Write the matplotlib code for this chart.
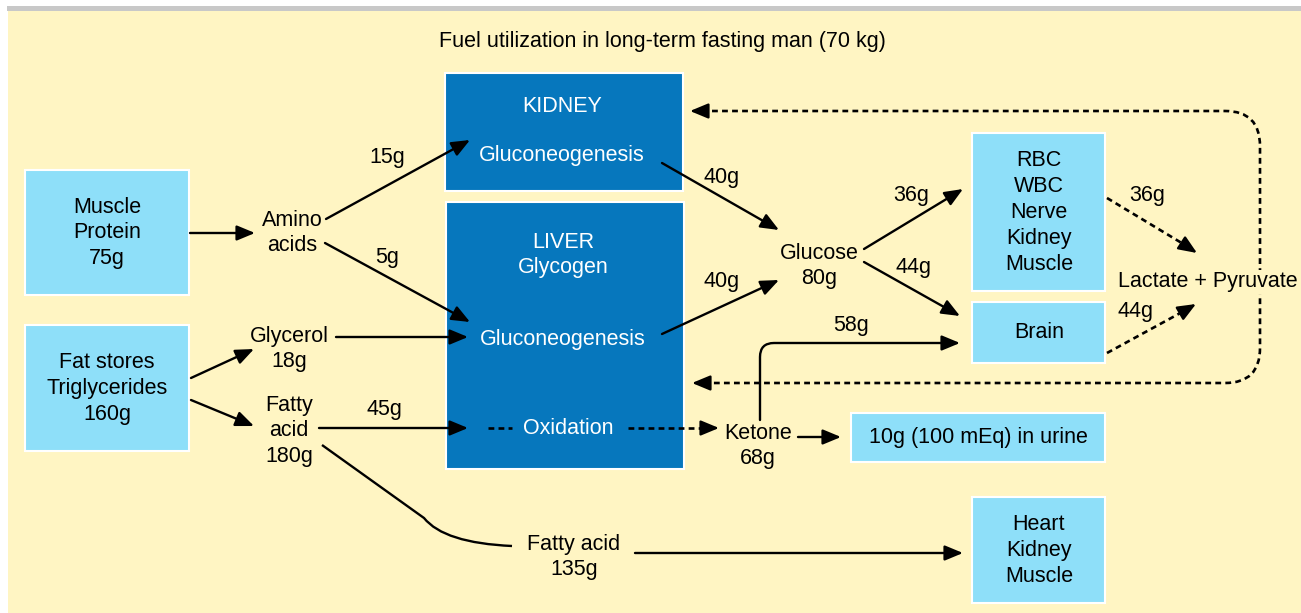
import matplotlib
matplotlib.use('Agg')
import matplotlib.pyplot as plt
from matplotlib.patches import Rectangle, FancyArrowPatch, PathPatch
from matplotlib.path import Path

# ---- content ----
title = 'Fuel utilization in long-term fasting man (70 kg)'

store_labels = ['Muscle\nProtein\n75g', 'Fat stores\nTriglycerides\n160g']
tissue_labels = ['RBC\nWBC\nNerve\nKidney\nMuscle', 'Brain',
                 '10g (100 mEq) in urine', 'Heart\nKidney\nMuscle']
organ_labels = ['KIDNEY', 'LIVER\nGlycogen']
process_labels = ['Gluconeogenesis', 'Gluconeogenesis', 'Oxidation']
middle_labels = ['Amino\nacids', 'Glycerol\n18g', 'Fatty\nacid\n180g',
                 'Glucose\n80g', 'Ketone\n68g', 'Fatty acid\n135g',
                 'Lactate + Pyruvate']
# grams carried by each labelled flow
flow_names = ['amino->kidney', 'amino->liver', 'kidney->glucose', 'liver->glucose',
              'glucose->rbc', 'glucose->brain', 'rbc->lactate', 'brain->lactate',
              'fatty->oxidation', 'ketone->brain']
flow_grams = [15, 5, 40, 40, 36, 44, 36, 44, 45, 58]

# ---- layout (pixel coords of the 1301x613 picture) ----
store_boxes = [(25, 170, 164, 125), (25, 325, 164, 126)]
tissue_boxes = [(972, 133, 133, 158), (972, 302, 133, 61),
                (851, 413, 254, 49), (972, 497, 133, 106)]
organ_boxes = [(445, 73, 238, 118), (446, 202, 238, 267)]
organ_text = [(562, 106), (563, 255)]
process_text = [(562, 156), (563, 339), (568, 428)]
middle_text = [(292, 233), (289, 349), (289, 431), (819, 266),
               (758, 446), (574, 557), (1208, 282)]
flow_text = [(387, 158), (387, 258), (722, 177), (722, 282), (911, 196),
             (913, 268), (1147, 195), (1135, 311), (384, 410), (851, 326)]

YELLOW = '#FFF5C3'
DARK = '#0677BD'
LIGHT = '#8EDFF9'
FS = 15.5

plt.rcParams['font.family'] = ['Liberation Sans', 'DejaVu Sans']

fig = plt.figure(figsize=(13.01, 6.13), dpi=100)
ax = fig.add_axes([0, 0, 1, 1])
ax.set_xlim(0, 1301)
ax.set_ylim(613, 0)
ax.axis('off')

ax.add_patch(Rectangle((8, 11), 1293, 602, facecolor=YELLOW, edgecolor='none'))
ax.add_patch(Rectangle((7, 6), 1294, 5, facecolor='#C8C8C8', edgecolor='none'))

ax.text(662, 42, title, ha='center', va='center', fontsize=FS)


def box(rect, color):
    x, y, w, h = rect
    ax.add_patch(Rectangle((x, y), w, h, facecolor=color,
                           edgecolor='white', lw=1.5, zorder=2))


def label(xy, s, color='black', bg=None):
    t = ax.text(xy[0], xy[1], s, ha='center', va='center', fontsize=FS,
                color=color, linespacing=1.3, zorder=5)
    if bg:
        t.set_bbox(dict(facecolor=bg, edgecolor='none', pad=1))


def arrow(p0, p1, path=None):
    kw = dict(arrowstyle='-|>,head_length=0.65,head_width=0.27',
              mutation_scale=17, color='black', lw=1.7,
              shrinkA=0, shrinkB=0, zorder=4)
    if path is not None:
        a = FancyArrowPatch(path=path, **kw)
    else:
        a = FancyArrowPatch(p0, p1, **kw)
    ax.add_patch(a)


def dashed(xs, ys, head=None):
    ax.plot(xs, ys, color='black', lw=1.9, ls=(0, (2.2, 1.6)), zorder=4,
            solid_capstyle='butt', dash_capstyle='butt')
    if head is not None:
        arrow(head[0], head[1])


for r, s in zip(store_boxes, store_labels):
    box(r, LIGHT)
    label((r[0] + r[2] / 2, r[1] + r[3] / 2 + 0.5), s)
for r, s in zip(tissue_boxes, tissue_labels):
    box(r, LIGHT)
    label((r[0] + r[2] / 2 + 0.5, r[1] + r[3] / 2 + 0.5), s)
for r in organ_boxes:
    box(r, DARK)
for xy, s in zip(organ_text, organ_labels):
    label(xy, s, color='white')
for xy, s in zip(process_text, process_labels):
    label(xy, s, color='white')
for xy, s in zip(middle_text, middle_labels):
    label(xy, s, bg=YELLOW if s.startswith('Lactate') else None)
for xy, g in zip(flow_text, flow_grams):
    label(xy, f'{g}g')

# solid arrows
arrow((190, 233), (255, 233))      # muscle -> amino
arrow((326, 219), (470, 140))      # amino -> kidney
arrow((325, 243), (470, 322))      # amino -> liver
arrow((336, 337), (468, 337))      # glycerol -> liver
arrow((191, 378), (254, 349))      # fat -> glycerol
arrow((191, 400), (254, 426))      # fat -> fatty acid
arrow((319, 428), (468, 428))      # fatty acid -> oxidation
arrow((662, 163), (779, 230))      # kidney -> glucose
arrow((662, 334), (779, 280))      # liver -> glucose
arrow((864, 249), (963, 189))      # glucose -> rbc
arrow((864, 262), (960, 316))      # glucose -> brain
arrow((798, 437), (841, 437))      # ketone -> urine
arrow((635, 553), (963, 553))      # fatty acid -> heart

# ketone -> brain with rounded corner
p = Path([(760, 420), (760, 357), (760, 343), (774, 343), (960, 343)],
         [Path.MOVETO, Path.LINETO, Path.CURVE3, Path.CURVE3, Path.LINETO])
arrow(None, None, path=p)

# fatty acid 180g -> fatty acid 135g
p = Path([(322, 445), (424, 518), (444, 543), (512, 546)],
         [Path.MOVETO, Path.LINETO, Path.CURVE3, Path.CURVE3])
ax.add_patch(PathPatch(p, facecolor='none', edgecolor='black', lw=1.7, zorder=4))

# dashed flows
dashed([488, 512], [428, 428])
dashed([628, 706], [428, 428], head=((704, 428), (719, 428)))
dashed([1107, 1185], [198, 245], head=((1184, 244.5), (1197, 253)))
dashed([1107, 1184], [353, 311], head=((1183, 311.5), (1196, 304)))

# lactate/pyruvate loop back to kidney and liver
p = Path([(702, 111), (1225, 111), (1260, 111), (1260, 146),
          (1260, 348), (1260, 383), (1225, 383), (702, 383)],
         [Path.MOVETO, Path.LINETO, Path.CURVE3, Path.CURVE3,
          Path.LINETO, Path.CURVE3, Path.CURVE3, Path.LINETO])
ax.add_patch(PathPatch(p, facecolor='none', edgecolor='black', lw=1.9,
                       ls=(0, (2.2, 1.6)), zorder=3))
arrow((704, 111), (690, 111))
arrow((706, 383), (692, 383))

fig.savefig('out.png', dpi=100)
